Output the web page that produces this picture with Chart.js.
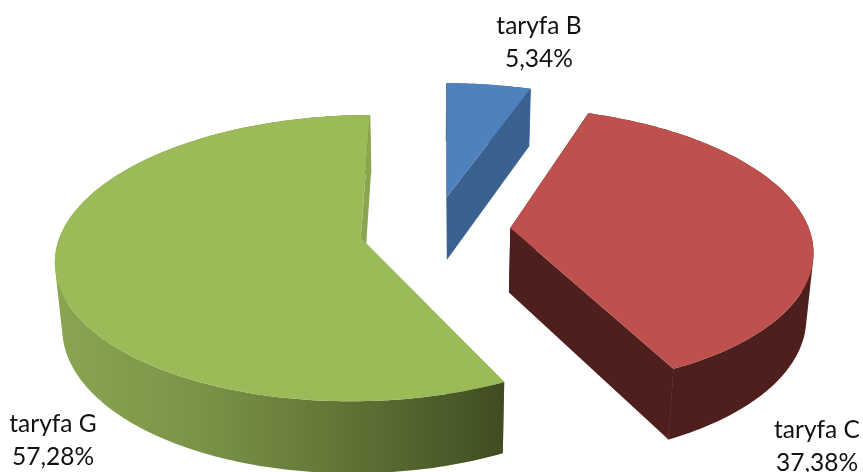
<!DOCTYPE html>
<html>
<head>
<meta charset="utf-8">
<title>taryfy</title>
<script src="https://cdn.jsdelivr.net/npm/chart.js@4"></script>
<style>
  html, body { margin: 0; padding: 0; background: #fff; overflow: hidden; }
  canvas { display: block; }
</style>
</head>
<body>
<canvas id="chart" width="863" height="472"></canvas>
<script>
const labels = ['taryfa B', 'taryfa C', 'taryfa G'];
const shares = [5.34, 37.38, 57.28];

const topColors = ['#4F81BD', '#BE504E', '#9BBB59'];
const cutColors = ['#3A6190', '#4F1F1E', '#8AA651'];
const wallStops = [
  ['#3A6190', '#3A6190'],
  ['#4F1F1E', '#4F1F1E'],
  ['#8AA651', '#7A9247', '#5F7235', '#3F4C21']
];
const labelAnchors = [[539, 26], [817, 430], [53, 424]];

// camera used to lay the flat pie down: s = scale, k/m = perspective, lean = slight skew
const cam = { x0: 435, y0: 230, sx: 299, sy: 138, k: 0.14, m: 0.019, depth: 66, lean: 1 };

function project(u, v, z) {
  const w = 1 + cam.k * v + cam.m * z;
  return [
    cam.x0 + cam.lean * v * (v - 1) + cam.sx * u / w,
    cam.y0 + (-cam.sy * v + cam.depth * z) / w
  ];
}

function tracePath(ctx, pts, start) {
  pts.forEach((p, i) => {
    if (i === 0 && start) ctx.moveTo(p[0], p[1]);
    else ctx.lineTo(p[0], p[1]);
  });
}

function fillQuad(ctx, pts) {
  ctx.beginPath();
  tracePath(ctx, pts, true);
  ctx.closePath();
  ctx.fill();
}

function signedArea(pts) {
  let s = 0;
  pts.forEach((p, i) => {
    const q = pts[(i + 1) % pts.length];
    s += p[0] * q[1] - q[0] * p[1];
  });
  return s;
}

const pie3d = {
  id: 'pie3d',
  beforeDatasetsDraw(chart) {
    const ctx = chart.ctx;
    const arcs = chart.getDatasetMeta(0).data;

    arcs.forEach((arc, i) => {
      const R = arc.outerRadius;
      const mid = (arc.startAngle + arc.endAngle) / 2;
      const ex = arc.options.offset * Math.cos(mid) / R;
      const ey = arc.options.offset * Math.sin(mid) / R;
      const rim = z => {
        const pts = [];
        const n = Math.ceil((arc.endAngle - arc.startAngle) * 60);
        for (let j = 0; j <= n; j++) {
          const a = arc.startAngle + (arc.endAngle - arc.startAngle) * j / n;
          pts.push(project(ex + Math.cos(a), -(ey + Math.sin(a)), z));
        }
        return pts;
      };
      const apex0 = project(ex, -ey, 0);
      const apex1 = project(ex, -ey, 1);
      const rim0 = rim(0);
      const rim1 = rim(1);
      const last = rim0.length - 1;

      // start cut is behind the wall, end cut faces the viewer
      ctx.fillStyle = cutColors[i];
      fillQuad(ctx, [apex0, rim0[0], rim1[0], apex1]);

      const xs = rim0.concat(rim1).map(p => p[0]);
      const grad = ctx.createLinearGradient(Math.min(...xs), 0, Math.max(...xs), 0);
      wallStops[i].forEach((c, k) => grad.addColorStop(k / (wallStops[i].length - 1), c));
      ctx.fillStyle = grad;
      // wall is swept strip by strip, all wound the same way so one fill has no seams
      ctx.beginPath();
      for (let j = 0; j < last; j++) {
        const strip = [rim0[j], rim0[j + 1], rim1[j + 1], rim1[j]];
        tracePath(ctx, signedArea(strip) < 0 ? strip.reverse() : strip, true);
        ctx.closePath();
      }
      ctx.fill();

      ctx.fillStyle = cutColors[i];
      fillQuad(ctx, [apex0, rim0[last], rim1[last], apex1]);
      // hides the hairline between this cut and the wall
      ctx.strokeStyle = cutColors[i];
      ctx.lineWidth = 0.8;
      ctx.beginPath();
      ctx.moveTo(rim0[last][0], rim0[last][1]);
      ctx.lineTo(rim1[last][0], rim1[last][1]);
      ctx.stroke();

      // top face
      ctx.fillStyle = topColors[i];
      ctx.beginPath();
      ctx.moveTo(apex0[0], apex0[1]);
      tracePath(ctx, rim0, false);
      ctx.closePath();
      ctx.fill();
    });

    ctx.save();
    ctx.font = '24.5px Lato';
    ctx.fillStyle = '#111';
    ctx.textAlign = 'center';
    ctx.textBaseline = 'middle';
    labels.forEach((name, i) => {
      const [x, y] = labelAnchors[i];
      ctx.fillText(name, x, y);
      ctx.fillText(shares[i].toFixed(2).replace('.', ',') + '%', x, y + 33);
    });
    ctx.restore();

    return false; // arcs are already painted in perspective
  }
};

new Chart(document.getElementById('chart'), {
  type: 'pie',
  data: {
    labels: labels,
    datasets: [{ data: shares, backgroundColor: topColors, borderWidth: 0, offset: 53 }]
  },
  options: {
    responsive: false,
    animation: false,
    events: [],
    plugins: { legend: { display: false }, tooltip: { enabled: false } }
  },
  plugins: [pie3d]
});
</script>
</body>
</html>
